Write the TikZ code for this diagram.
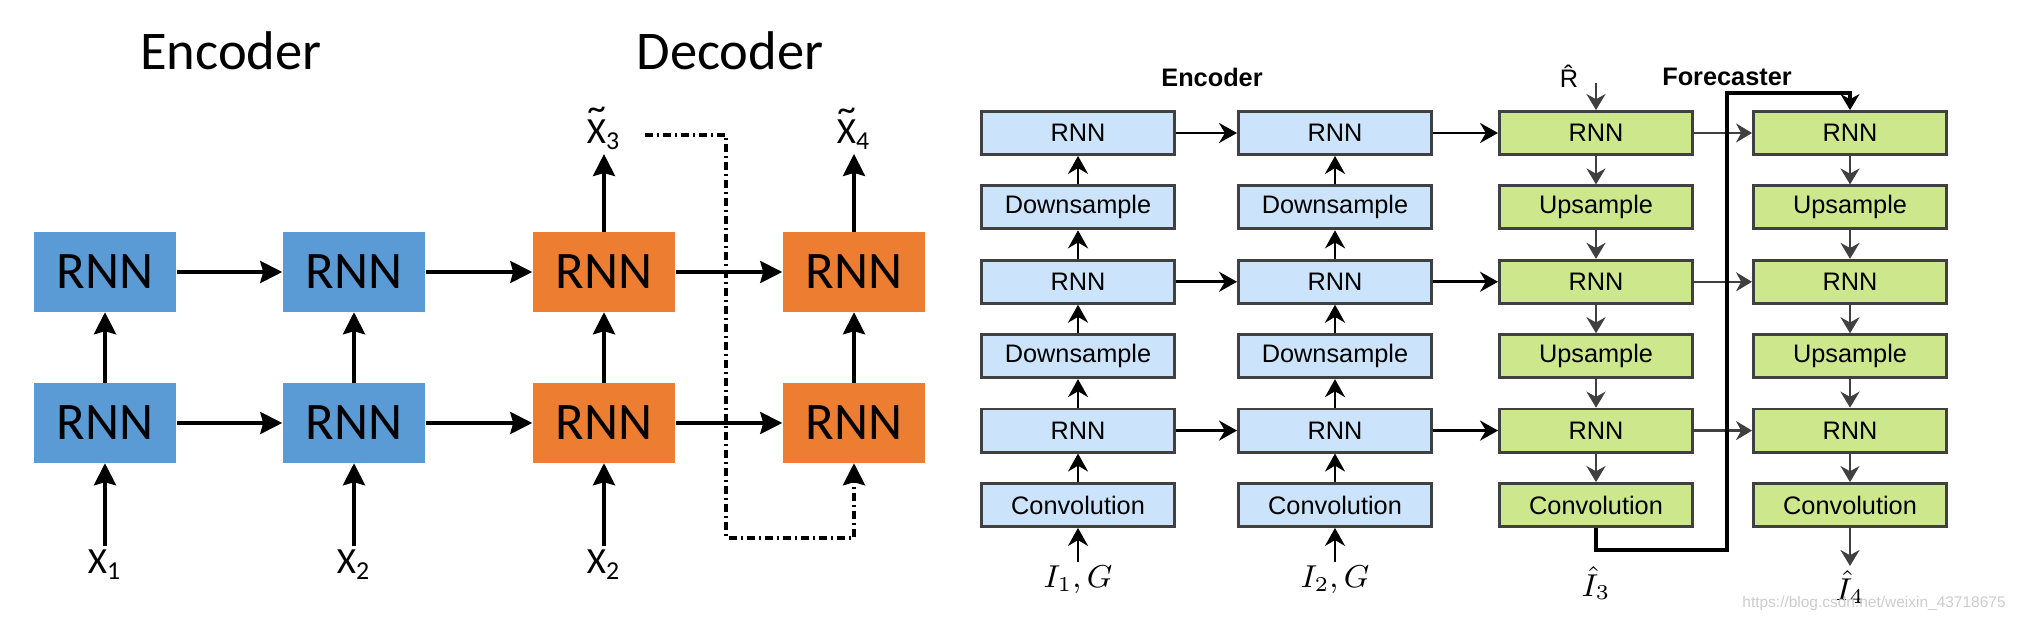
\documentclass[tikz,border=0pt]{standalone}
\usepackage{fontspec}
\setmainfont{Liberation Sans}
\newfontfamily\calfont{Carlito}
\usetikzlibrary{arrows.meta,positioning}
\definecolor{rnnblue}{RGB}{91,155,213}
\definecolor{rnnorange}{RGB}{237,125,49}
\definecolor{cellblue}{RGB}{204,228,251}
\definecolor{cellgreen}{RGB}{205,232,140}
\definecolor{cellgray}{RGB}{64,64,64}
\newcommand{\tildeX}{\ooalign{X\cr\hidewidth\raisebox{0.62em}{\textasciitilde}\hidewidth\cr}}

\begin{document}
\begin{tikzpicture}
  [x=0.01cm,y=-0.01cm,
    title/.style={font=\calfont\fontsize{15.5}{18}\selectfont},
    bigcell/.style={minimum width=1.42cm,minimum height=0.79cm,inner sep=0pt,font=\calfont\fontsize{15}{18}\selectfont},
    xlabel/.style={font=\calfont\fontsize{10.5}{12}\selectfont,inner sep=1pt},
    bigarrow/.style={line width=1.1pt,-{Stealth[length=0.22cm,width=0.22cm,inset=0.03cm]}},
    feedback/.style={bigarrow,dash pattern=on 0.08cm off 0.04cm on 0.02cm off 0.04cm},
    box/.style={draw=cellgray,line width=0.8pt,minimum width=1.93cm,minimum height=0.43cm,inner sep=0pt,font=\fontsize{7.2}{8}\selectfont},
    ebox/.style={box,fill=cellblue},
    fbox/.style={box,fill=cellgreen},
    head/.style={font=\bfseries\fontsize{7.2}{8}\selectfont},
    varlabel/.style={font=\fontsize{9}{10}\selectfont,inner sep=1pt},
    uparrow/.style={line width=0.8pt,-{Stealth[length=0.18cm,width=0.2cm]}},
    downarrow/.style={draw=cellgray,line width=0.7pt,-{Stealth[length=0.16cm,width=0.19cm]}},
    loopline/.style={line width=1.4pt,-{Stealth[length=0.16cm,width=0.19cm]}}]
  \useasboundingbox (0,0) rectangle (2018,622);

  % seq2seq
  \node[title] (enc) at (231,51) {Encoder};
  \node[title] (dec) at (730,51) {Decoder};
  \foreach \c/\x/\col in {1/105/rnnblue,2/354/rnnblue,3/604/rnnorange,4/854/rnnorange}{
    \node[bigcell,fill=\col] (t\c) at (\x,272) {RNN};
    \node[bigcell,fill=\col] (b\c) at (\x,423) {RNN};
  }
  \node[xlabel] (x1) at (105,565) {X\textsubscript{1}};
  \node[xlabel] (x2) at (354,565) {X\textsubscript{2}};
  \node[xlabel] (x3) at (604,565) {X\textsubscript{2}};
  \node[xlabel] (y3) at (604,135) {\tildeX\textsubscript{3}};
  \node[xlabel] (y4) at (854,135) {\tildeX\textsubscript{4}};
  \foreach \c in {1,...,4}
    \draw[bigarrow] (b\c) -- (t\c);
  \foreach \c/\d in {1/2,2/3,3/4}{
    \draw[bigarrow] (t\c) -- (t\d);
    \draw[bigarrow] (b\c) -- (b\d);
  }
  \foreach \c in {1,2,3}
    \draw[bigarrow] (x\c) -- (b\c);
  \draw[bigarrow] (t3) -- (y3);
  \draw[bigarrow] (t4) -- (y4);
  \coordinate (fbturn) at (726,538);
  \draw[feedback] ([xshift=0.2cm]y3.east) -| (fbturn) -| (b4.south);

  % encoder-forecaster
  \node[head] (enchead) at (1212,77) {Encoder};
  \node[head] (forehead) at (1727,77) {Forecaster};
  \foreach \c/\x in {1/1078,2/1335}{
    \foreach \r/\t in {1/RNN,2/Downsample,3/RNN,4/Downsample,5/RNN,6/Convolution}
      \node[ebox] (e\c\r) at (\x,{133+74.4*(\r-1)}) {\t};
  }
  \foreach \c/\x in {1/1596,2/1850}{
    \foreach \r/\t in {1/RNN,2/Upsample,3/RNN,4/Upsample,5/RNN,6/Convolution}
      \node[fbox] (f\c\r) at (\x,{133+74.4*(\r-1)}) {\t};
  }
  \foreach \c in {1,2}
    \foreach \r/\s in {1/2,2/3,3/4,4/5,5/6}{
      \draw[uparrow] (e\c\s) -- (e\c\r);
      \draw[downarrow] (f\c\r) -- (f\c\s);
    }
  \foreach \r in {1,3,5}{
    \draw[uparrow] (e1\r) -- (e2\r);
    \draw[uparrow] (e2\r) -- (f1\r);
    \draw[downarrow] (f1\r) -- (f2\r);
  }
  \node[varlabel] (in1) at (1078,580) {$I_1, G$};
  \node[varlabel] (in2) at (1335,580) {$I_2, G$};
  \node[varlabel] (out3) at (1596,583) {$\hat{I}_3$};
  \node[varlabel] (out4) at (1850,587) {$\hat{I}_4$};
  \draw[uparrow] (in1) -- (e16);
  \draw[uparrow] (in2) -- (e26);
  \draw[downarrow] (f26) -- (out4);
  \node[font=\fontsize{7.2}{8}\selectfont] (rhat) at (1569,76) {\^{R}};
  \coordinate (rin) at (1596,83);
  \draw[downarrow] (rin) -- (f11);
  \coordinate (loopb) at (1727,550);
  \coordinate (loopt) at (1727,93);
  \draw[loopline] (f16.south) |- (loopb) -- (loopt) -| (f21.north);

  \node[font=\fontsize{4.4}{5}\selectfont,text=gray!40,inner sep=0pt] (mark) at (1874,604) {https://blog.csdn.net/weixin\_43718675};
\end{tikzpicture}
\end{document}
